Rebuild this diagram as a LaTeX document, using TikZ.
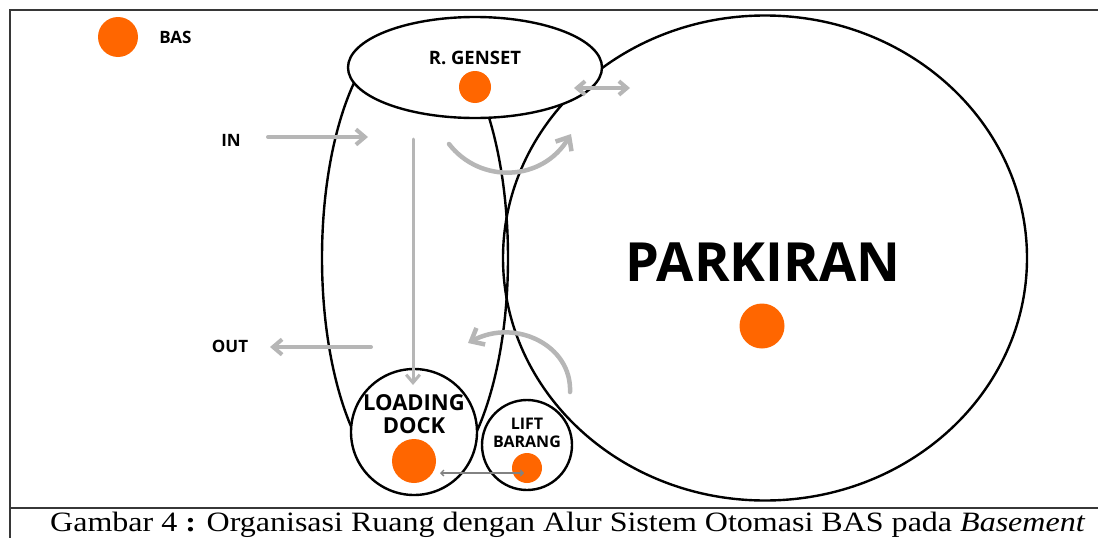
\documentclass[tikz,border=0pt]{standalone}
\usepackage{fontspec}
\usepackage{graphicx}
\newfontfamily\labelfont{Open Sans}
\newfontfamily\captionfont{Liberation Serif}
\usetikzlibrary{shapes.geometric,arrows.meta,positioning}
\definecolor{basorange}{RGB}{255,102,0}
\definecolor{flowgray}{RGB}{182,182,182}
\definecolor{linkgray}{RGB}{130,130,130}
\definecolor{framegray}{RGB}{55,55,55}

\begin{document}
\begin{tikzpicture}[x=1pt,y=-1pt,
	zone/.style={draw=black,line width=2.4pt,inner sep=0pt},
	zone fill/.style={zone,fill=white},
	bas dot/.style={circle,fill=basorange,inner sep=0pt,minimum size=#1},
	zone label/.style args={#1/#2}{font=\labelfont\bfseries\fontsize{#1}{#2}\selectfont,align=center,inner sep=0pt},
	flow/.style={draw=flowgray,line width=4pt,line cap=round},
	flow tip/.style={-{Straight Barb[length=#1,width=1.7*#1]}},
	flow tips/.style={{Straight Barb[length=#1,width=1.7*#1]}-{Straight Barb[length=#1,width=1.7*#1]}},
	link/.style={draw=linkgray,line width=1.3pt,{Straight Barb[length=3pt,width=6pt]}-{Straight Barb[length=3pt,width=6pt]}}]
	\useasboundingbox (0,0) rectangle (1098,538);

	% frame of the figure
	\draw[framegray,line width=1.5pt] (1098,10) -- (10,10) -- (10,538);
	\draw[framegray,line width=1.5pt] (10,508) -- (1098,508);

	% zones
	\node[zone,ellipse,minimum width=186,minimum height=464]		(core)		at (415,258)	{};
	\node[zone,ellipse,minimum width=524,minimum height=485]		(parking)	at (765,258)	{};
	\node[zone fill,ellipse,minimum width=254,minimum height=101]	(genset)	at (475,67.5)	{};
	\node[zone fill,circle,minimum size=126]						(dock)		at (414,432)	{};
	\node[zone fill,circle,minimum size=90]						(lift)		at (527,445)	{};

	% BAS points and labels
	\node[bas dot=40]								(legend dot)	at (118,37)		{};
	\node[zone label=17/18,right=21pt of legend dot]	(legend text)					{BAS};
	\node[bas dot=32]								(genset dot)	at (475,87)		{};
	\node[zone label=18.5/20]						(genset text)	at (475,58)		{R. GENSET};
	\node[bas dot=45]								(parking dot)	at (762,326)	{};
	\node[zone label=54/56]							(parking text)	at (763,262)	{PARKIRAN};
	\node[bas dot=44]								(dock dot)		at (414,461)	{};
	\node[zone label=22/23.5]						(dock text)		at (414,414)	{LOADING\\DOCK};
	\node[bas dot=30]								(lift dot)		at (527,468)	{};
	\node[zone label=16/18]							(lift text)		at (527,433)	{LIFT\\BARANG};
	\node[zone label=17/18]							(in text)		at (231,140)	{IN};
	\node[zone label=17/18]							(out text)		at (230,346)	{OUT};

	% flows
	\coordinate (in start)		at (268,137);
	\coordinate (in end)		at (368,137);
	\coordinate (drop start)	at (413,139);
	\coordinate (drop end)		at (413,385);
	\coordinate (out start)		at (371,347);
	\coordinate (out end)		at (270,347);
	\coordinate (side left)		at (574,88);
	\coordinate (side right)	at (630,88);
	\coordinate (turn start)	at (449,144);
	\coordinate (turn end)		at (571,134);
	\coordinate (back start)	at (570,392);
	\coordinate (back end)		at (468,343);
	\coordinate (link left)		at (440,473);
	\coordinate (link right)	at (524,473);

	\draw[flow,flow tip=9pt]	(in start) -- (in end);
	\draw[flow,line width=3pt,flow tip=8pt]	(drop start) -- (drop end);
	\draw[flow,flow tip=9pt]	(out start) -- (out end);
	\draw[flow,flow tips=8pt]	(side left) -- (side right);
	\draw[flow,line width=4.5pt,flow tip=11pt]	(turn start) .. controls (480,184) and (542,182) .. (turn end);
	\draw[flow,line width=4.5pt,flow tip=11pt]	(back start) .. controls (572,345) and (515,318) .. (back end);
	\draw[link]	(link left) -- (link right);

	% caption
	\node[anchor=base west,inner sep=0pt] (caption) at (50,531)
		{\resizebox{1035pt}{\height}{\captionfont\fontsize{28}{30}\selectfont Gambar 4 \textbf{:} Organisasi Ruang dengan Alur Sistem Otomasi BAS pada \textit{Basement}}};
\end{tikzpicture}
\end{document}
